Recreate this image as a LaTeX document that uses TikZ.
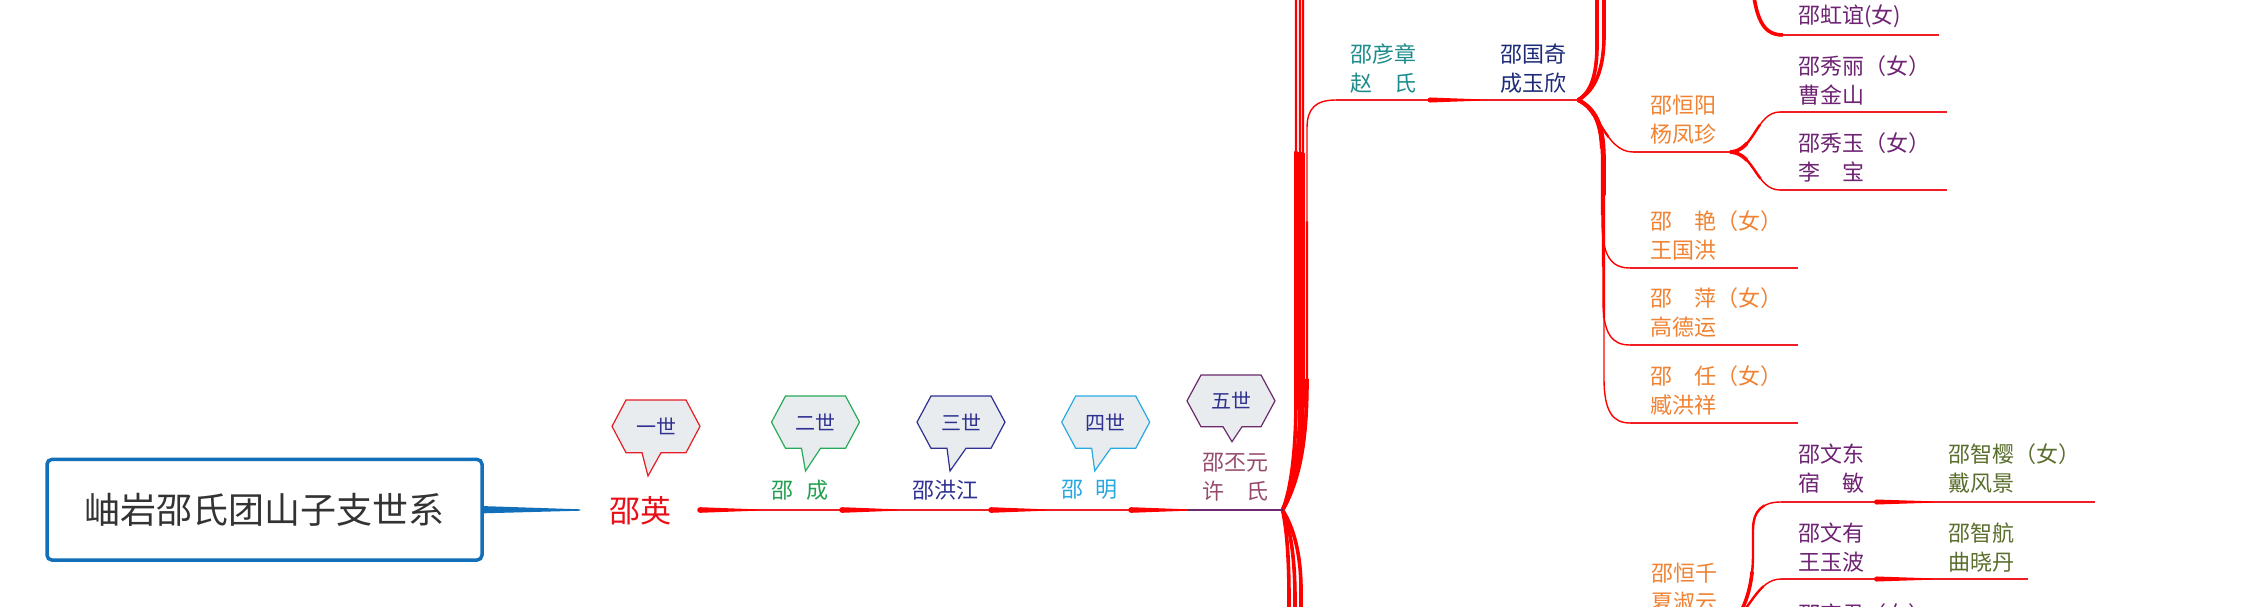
\documentclass[tikz,border=0pt]{standalone}
\usepackage{fontspec}
\newfontfamily\cjk{Noto Sans CJK SC}
\usetikzlibrary{calc}
\definecolor{brred}{RGB}{255,0,0}
\definecolor{lnred}{RGB}{238,30,36}
\definecolor{rootblue}{RGB}{18,112,187}
\definecolor{rootgray}{RGB}{51,51,51}
\definecolor{cred}{RGB}{232,16,24}
\definecolor{cgreen}{RGB}{34,160,80}
\definecolor{cnavy}{RGB}{46,49,146}
\definecolor{ccyan}{RGB}{41,168,224}
\definecolor{cmauve}{RGB}{150,75,110}
\definecolor{cpurple5}{RGB}{107,42,107}
\definecolor{cteal}{RGB}{30,140,140}
\definecolor{cdnavy}{RGB}{29,42,120}
\definecolor{corange}{RGB}{240,130,50}
\definecolor{cviolet}{RGB}{110,35,115}
\definecolor{colive}{RGB}{90,110,45}
\definecolor{bubfill}{RGB}{232,236,238}
\definecolor{bubtxt}{RGB}{46,49,146}
\definecolor{bub1}{RGB}{228,30,36}
\definecolor{bub2}{RGB}{40,170,90}
\definecolor{bub3}{RGB}{46,49,146}
\definecolor{bub4}{RGB}{41,171,226}
\definecolor{bub5}{RGB}{107,42,107}
\tikzset{
  lbl/.style={font=\cjk\fontsize{22}{29}\selectfont, inner sep=0pt, align=left, anchor=west},
  rowlbl/.style={font=\cjk\fontsize{22}{29}\selectfont, inner sep=0pt, align=left},
  thinln/.style={draw=lnred, line width=1.3},
  brthin/.style={draw=brred, line width=1.4},
  brmid/.style={draw=brred, line width=2.4},
  brthick/.style={draw=brred, line width=3.6},
  bubble/.style={fill=bubfill, line width=1.2, line join=miter},
  bubtext/.style={font=\cjk\fontsize{20}{24}\selectfont, text=bubtxt, inner sep=0pt}
}
\newcommand\tapr[4]{%
  \fill[#1] (#2) circle[radius=#4];
  \fill[#1] ($(#2)+(0,-#4)$) -- ($(#3)+(0,-0.65)$) -- ($(#3)+(0,0.65)$) -- ($(#2)+(0,#4)$) -- cycle;}
\newcommand\tbranch[2]{%
  \pgfmathsetmacro\tbLa{0.65*#1}\pgfmathsetmacro\tbLb{0.3*#1}%
  \draw[brthin] #2;
  \draw[brmid, dash pattern=on \tbLa pt off 3000pt] #2;
  \draw[brthick, dash pattern=on \tbLb pt off 3000pt] #2;}
\newcommand\genbub[9]{%
  \pgfmathsetmacro\bubm{(#3+#4)/2}%
  \draw[bubble, draw=#5] (#2-44,\bubm) -- (#2-30,#3) -- (#2+30,#3) -- (#2+44,\bubm) -- (#2+30,#4) -- (#2+#7+19,#4) -- (#2+#8,#9) -- (#2+#7,#4) -- (#2-30,#4) -- cycle;
  \node[bubtext] (#1) at (#2,\bubm) {#6};}
\begin{document}
\begin{tikzpicture}[x=1pt,y=-1pt]
\useasboundingbox (0,0) rectangle (2244,606);
\clip (0,0) rectangle (2244,606);
\fill[white] (0,0) rectangle (2244,606);

% root
\node[draw=rootblue, line width=3.5, rounded corners=5, fill=white, minimum width=435, minimum height=100.7, inner sep=0, font=\cjk\fontsize{36}{40}\selectfont, text=rootgray] (root) at (264.5,509.7) {岫岩邵氏团山子支世系};
\coordinate (rc) at (580,510);
\fill[rootblue] ($(root.east)+(0,-3.6)$) -- ($(rc)+(0,-0.7)$) -- ($(rc)+(0,0.7)$) -- ($(root.east)+(0,3.6)$) -- cycle;

\node[font=\cjk\fontsize{31}{35}\selectfont, text=cred, inner sep=0] (ying) at (640.6,511) {邵英};

% coordinates
\coordinate (m0) at (700,510); \coordinate (t0) at (757,510);
\coordinate (m1) at (842,510); \coordinate (t1) at (897,510);
\coordinate (m2) at (991,510); \coordinate (t2) at (1046,510);
\coordinate (m3) at (1131,510); \coordinate (t3) at (1188,510);
\coordinate (J5) at (1282.5,510);
\coordinate (yz) at (1336,100); \coordinate (gq0) at (1430,100); \coordinate (gqt) at (1480,100);
\coordinate (J4) at (1578,100);
\coordinate (hy) at (1633,152); \coordinate (J3) at (1730,152);
\coordinate (xl) at (1780,112); \coordinate (xle) at (1947,112);
\coordinate (xy) at (1780,190); \coordinate (xye) at (1947,190);
\coordinate (hyi) at (1783,35); \coordinate (hyie) at (1939,35); \coordinate (hyip) at (1750,-40);
\coordinate (ya) at (1630,268); \coordinate (yae) at (1798,268);
\coordinate (pi) at (1630,345); \coordinate (pie) at (1798,345);
\coordinate (re) at (1630,423); \coordinate (ree) at (1798,423);
\coordinate (J6) at (1730,626);
\coordinate (wd) at (1781,502); \coordinate (wdt0) at (1876.6,502); \coordinate (wdt) at (1932,502); \coordinate (wde) at (2094.7,502);
\coordinate (wy) at (1781,579); \coordinate (wyt0) at (1876.6,579); \coordinate (wyt) at (1932,579); \coordinate (wye) at (2028,579);
\coordinate (up1) at (1296,-60); \coordinate (up2) at (1300,-60); \coordinate (up3) at (1303,-60);
\coordinate (dn1) at (1289,700); \coordinate (dn2) at (1295,700); \coordinate (dn3) at (1301,700);
\coordinate (gu1) at (1597,-60); \coordinate (gu2) at (1604,-60);

% branches from main junction
\tbranch{1200}{(J5) .. controls (1291,490) and (1296,450) .. (1296,400) -- (up1)}
\tbranch{1200}{(J5) .. controls (1293,490) and (1300,450) .. (1300,400) -- (up2)}
\tbranch{1200}{(J5) .. controls (1295,490) and (1303,450) .. (1303,400) -- (up3)}
\tbranch{450}{(J5) .. controls (1300,480) and (1307,440) .. (1307,380) -- (1307,128) .. controls (1307,108) and (1316,100) .. (yz)}
\tbranch{1200}{(J5) .. controls (1287,530) and (1289,560) .. (1289,600) -- (dn1)}
\tbranch{1200}{(J5) .. controls (1291,530) and (1295,560) .. (1295,600) -- (dn2)}
\tbranch{1200}{(J5) .. controls (1294,528) and (1301,555) .. (1301,590) -- (dn3)}

% branches from 邵国奇
\tbranch{900}{(J4) .. controls (1592,92) and (1597,72) .. (1597,45) -- (gu1)}
\tbranch{900}{(J4) .. controls (1596,90) and (1604,68) .. (1604,35) -- (gu2)}
\tbranch{75}{(J4) .. controls (1598,106) and (1605,152) .. (hy)}
\tbranch{190}{(J4) .. controls (1598,110) and (1602,130) .. (1602,160) -- (1602,220) .. controls (1602,256) and (1611,268) .. (ya)}
\tbranch{270}{(J4) .. controls (1598,110) and (1603,130) .. (1603,160) -- (1603,300) .. controls (1603,334) and (1612,345) .. (pi)}
\tbranch{350}{(J4) .. controls (1599,110) and (1604,130) .. (1604,160) -- (1604,378) .. controls (1604,412) and (1613,423) .. (re)}

% branches from 邵恒阳
\tbranch{65}{(J3) .. controls (1755,151) and (1756,112) .. (xl)}
\tbranch{65}{(J3) .. controls (1755,153) and (1756,190) .. (xy)}
\tbranch{300}{(hyip) .. controls (1754,15) and (1760,35) .. (hyi)}

% branches from 邵恒千
\tbranch{200}{(J6) .. controls (1745,612) and (1753,585) .. (1753,555) -- (1753,530) .. controls (1753,510) and (1763,502) .. (wd)}
\tbranch{80}{(J6) .. controls (1750,610) and (1758,579) .. (wy)}

% main row lines
\draw[thinln] (m0) -- (m1) -- (m2) -- (m3) -- (t3);
\draw[line width=1.3, draw=cpurple5] (t3) -- (J5);
\tapr{brred}{m0}{t0}{2.8}
\tapr{brred}{m1}{t1}{2.8}
\tapr{brred}{m2}{t2}{2.8}
\tapr{brred}{m3}{t3}{2.8}

% other lines
\draw[thinln] (yz) -- (J4); \tapr{brred}{gq0}{gqt}{2.5}
\draw[thinln] (hy) -- (J3);
\draw[thinln] (xl) -- (xle);
\draw[thinln] (xy) -- (xye);
\draw[thinln] (hyi) -- (hyie);
\draw[thinln] (ya) -- (yae);
\draw[thinln] (pi) -- (pie);
\draw[thinln] (re) -- (ree);
\draw[thinln] (wd) -- (wde); \tapr{brred}{wdt0}{wdt}{2.5}
\draw[thinln] (wy) -- (wye); \tapr{brred}{wyt0}{wyt}{2.5}

% generation bubbles
\genbub{g1}{656}{400}{452.7}{bub1}{一世}{-14}{-8}{476}
\genbub{g2}{815.5}{396}{448.3}{bub2}{二世}{-14}{-10}{471}
\genbub{g3}{961}{396}{448.3}{bub3}{三世}{-14}{-11}{471}
\genbub{g4}{1105.7}{396}{448.3}{bub4}{四世}{-14}{-11}{471}
\genbub{g5}{1231}{375}{426.7}{bub5}{五世}{-8}{1}{441.7}

% main row labels
\node[rowlbl, text=cgreen] (cheng) at (800,490) {邵\hspace{0.55em}成};
\node[rowlbl, text=cnavy] (hongjiang) at (945,490) {邵洪江};
\node[rowlbl, text=ccyan] (ming) at (1089.5,490) {邵\hspace{0.55em}明};
\node[rowlbl, text=cmauve] (piyuan) at (1235.4,477.5) {邵丕元\\许　氏};

% right labels
\node[lbl, text=cteal] (yanzhang) at (1350,68.3) {邵彦章\\赵　氏};
\node[lbl, text=cdnavy] (guoqi) at (1500,68.3) {邵国奇\\成玉欣};
\node[lbl, text=cviolet] (hongyi) at (1798,16.7) {邵虹谊(女)};
\node[lbl, text=cviolet] (xiuli) at (1798,80.8) {邵秀丽（女）\\曹金山};
\node[lbl, text=cviolet] (xiuyu) at (1798,157.5) {邵秀玉（女）\\李　宝};
\node[lbl, text=corange] (hengyang) at (1650,119.2) {邵恒阳\\杨凤珍};
\node[lbl, text=corange] (yan) at (1650,235) {邵　艳（女）\\王国洪};
\node[lbl, text=corange] (ping) at (1650,312.5) {邵　萍（女）\\高德运};
\node[lbl, text=corange] (ren) at (1650,390.8) {邵　任（女）\\臧洪祥};
\node[lbl, text=cviolet] (wendong) at (1798,468.3) {邵文东\\宿　敏};
\node[lbl, text=colive] (zhiying) at (1948,468.3) {邵智樱（女）\\戴风景};
\node[lbl, text=cviolet] (wenyou) at (1798,547.5) {邵文有\\王玉波};
\node[lbl, text=colive] (zhihang) at (1948,547.5) {邵智航\\曲晓丹};
\node[lbl, text=cviolet] (hongjun) at (1798,614) {邵宏君（女）};
\node[lbl, text=corange] (hengqian) at (1651,587.5) {邵恒千\\夏淑云};
\end{tikzpicture}
\end{document}
